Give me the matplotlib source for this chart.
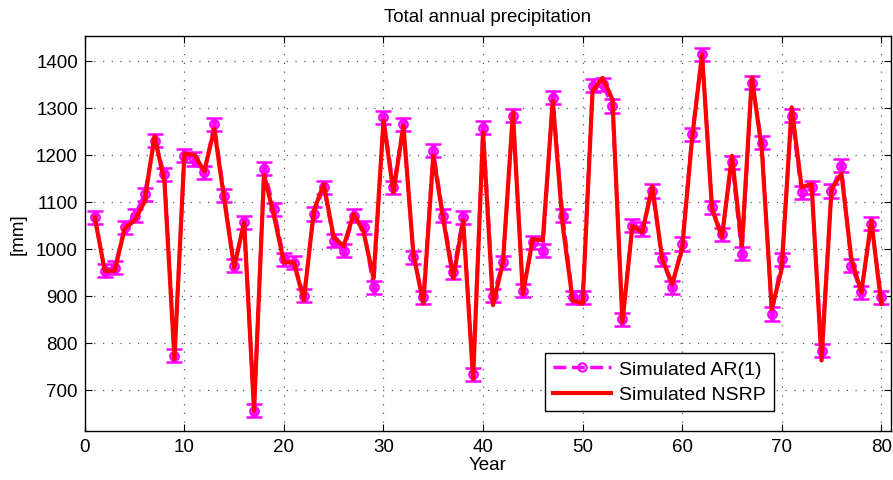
import matplotlib.pyplot as plt
import numpy as np
from matplotlib.lines import Line2D

plt.rcParams['font.family'] = ['Liberation Sans', 'DejaVu Sans']

years = np.arange(1, 81)

# simulated AR(1) totals (magenta markers)
ar1 = [1067, 953, 960, 1046, 1070, 1116, 1230, 1159, 772, 1198,
       1191, 1163, 1265, 1113, 964, 1056, 655, 1170, 1084, 978,
       970, 900, 1074, 1131, 1017, 996, 1070, 1046, 918, 1280,
       1131, 1265, 982, 897, 1209, 1070, 950, 1067, 733, 1258,
       900, 971, 1283, 911, 1014, 996, 1322, 1070, 897, 897,
       1347, 1350, 1304, 850, 1049, 1042, 1123, 978, 918, 1010,
       1244, 1414, 1088, 1031, 1184, 989, 1354, 1226, 861, 978,
       1283, 1120, 1131, 783, 1123, 1177, 964, 907, 1053, 897]

# simulated NSRP totals (red line)
nsrp = [1067, 953, 953, 1043, 1060, 1100, 1240, 1142, 765, 1202,
        1200, 1165, 1255, 1105, 960, 1056, 655, 1157, 1070, 971,
        971, 890, 1081, 1138, 1024, 1006, 1074, 1036, 937, 1273,
        1120, 1262, 990, 883, 1198, 1063, 937, 1060, 723, 1248,
        880, 971, 1290, 904, 1021, 1018, 1315, 1050, 890, 883,
        1336, 1364, 1318, 843, 1049, 1035, 1133, 978, 925, 1000,
        1235, 1414, 1085, 1024, 1198, 1006, 1365, 1212, 871, 957,
        1301, 1131, 1138, 762, 1127, 1160, 978, 907, 1060, 883]

ar1_err = 14

fig = plt.figure(figsize=(8.93, 4.81), dpi=100)
ax = fig.add_axes([0.095, 0.102, 0.903, 0.821])

ax.errorbar(years, ar1, yerr=ar1_err, color='magenta', ls='--', lw=2.5,
            marker='o', ms=6, mfc='none', mew=1.8, elinewidth=3.5,
            capsize=5.5, capthick=3, zorder=2)
ax.plot(years, nsrp, color='red', lw=3, zorder=3)

ax.set_xlim(0, 81)
ax.set_ylim(612, 1453)
ax.set_xticks(np.arange(0, 81, 10))
ax.set_yticks(np.arange(700, 1401, 100))
ax.tick_params(direction='in', top=True, right=True, labelsize=13.5,
               length=5, pad=5)
ax.grid(True, ls=(0, (1, 6)), color='0.35', lw=0.9)
for s in ax.spines.values():
    s.set_linewidth(1.0)

ax.set_xlabel('Year', fontsize=13.5, labelpad=1)
ax.set_ylabel('[mm]', fontsize=13.5, labelpad=7)
ax.set_title('Total annual precipitation', fontsize=13.5, pad=11)

handles = [Line2D([], [], color='magenta', ls='--', lw=2.5, marker='o', ms=6,
                  mfc='none', mew=1.5),
           Line2D([], [], color='red', lw=3)]
leg = ax.legend(handles, ['Simulated AR(1)', 'Simulated NSRP'],
                loc='lower left', bbox_to_anchor=(0.571, 0.05),
                borderaxespad=0, fontsize=14, fancybox=False,
                edgecolor='black', framealpha=1, borderpad=0.4,
                handlelength=3.0, labelspacing=0.4, handletextpad=0.4)
leg.get_frame().set_linewidth(1.0)

fig.savefig('out.png', dpi=100)
